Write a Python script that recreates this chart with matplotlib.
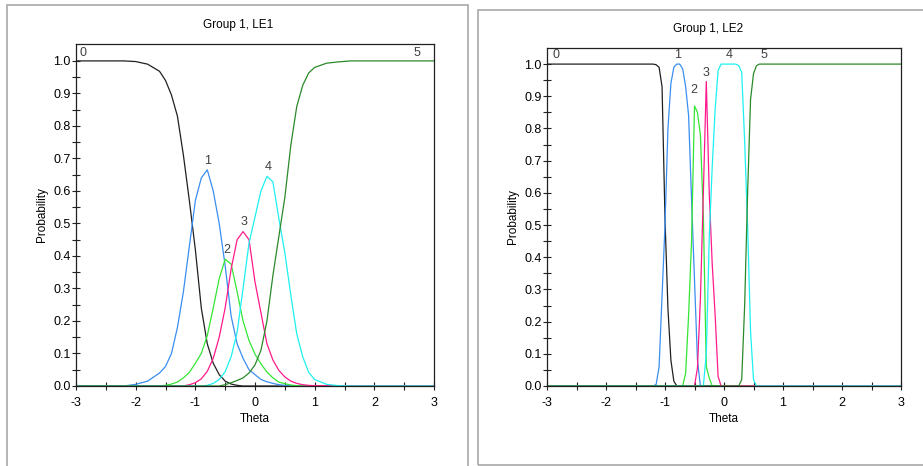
import matplotlib
matplotlib.use('Agg')
import matplotlib.pyplot as plt
from matplotlib.patches import Rectangle

plt.rcParams['font.family'] = ['Liberation Sans', 'DejaVu Sans']
plt.rcParams['axes.unicode_minus'] = False

# ---- LE1: category response curves ----
le1_theta = [-3, -2.5, -2.2, -2.0, -1.8, -1.6, -1.5, -1.4, -1.3, -1.2, -1.1, -1.0,
             -0.9, -0.8, -0.7, -0.6, -0.5, -0.4, -0.3, -0.2, -0.1, 0.0, 0.1, 0.2,
             0.3, 0.4, 0.5, 0.6, 0.7, 0.8, 0.9, 1.0, 1.2, 1.4, 1.6, 2.0, 3.0]
le1_p0 = [1.0, 1.0, 1.0, 0.998, 0.99, 0.968, 0.94, 0.895, 0.83, 0.71, 0.57, 0.42,
          0.24, 0.13, 0.07, 0.035, 0.015, 0.006, 0.002, 0, 0, 0, 0, 0,
          0, 0, 0, 0, 0, 0, 0, 0, 0, 0, 0, 0, 0]
le1_p1 = [0, 0, 0, 0.005, 0.015, 0.04, 0.06, 0.10, 0.18, 0.29, 0.43, 0.57,
          0.64, 0.665, 0.60, 0.50, 0.37, 0.215, 0.13, 0.085, 0.05, 0.035, 0.02, 0.013,
          0.008, 0.004, 0.002, 0, 0, 0, 0, 0, 0, 0, 0, 0, 0]
le1_p2 = [0, 0, 0, 0, 0, 0, 0.002, 0.006, 0.012, 0.025, 0.042, 0.07,
          0.10, 0.155, 0.24, 0.33, 0.39, 0.375, 0.29, 0.20, 0.14, 0.098, 0.068, 0.043,
          0.025, 0.012, 0.007, 0.003, 0.001, 0, 0, 0, 0, 0, 0, 0, 0]
le1_p3 = [0, 0, 0, 0, 0, 0, 0, 0, 0, 0, 0.004, 0.01,
          0.022, 0.045, 0.085, 0.15, 0.24, 0.36, 0.45, 0.475, 0.45, 0.32, 0.225, 0.13,
          0.08, 0.048, 0.028, 0.015, 0.008, 0.004, 0.002, 0.001, 0.001, 0, 0, 0, 0]
le1_p4 = [0, 0, 0, 0, 0, 0, 0, 0, 0, 0, 0, 0,
          0, 0.002, 0.008, 0.02, 0.044, 0.09, 0.165, 0.30, 0.44, 0.52, 0.60, 0.645,
          0.628, 0.515, 0.41, 0.28, 0.16, 0.09, 0.042, 0.02, 0.005, 0.001, 0, 0, 0]
le1_p5 = [0, 0, 0, 0, 0, 0, 0, 0, 0, 0, 0, 0,
          0, 0, 0, 0, 0.004, 0.01, 0.017, 0.025, 0.04, 0.065, 0.11, 0.20,
          0.34, 0.46, 0.58, 0.74, 0.86, 0.925, 0.963, 0.98, 0.993, 0.997, 1.0, 1.0, 1.0]

# ---- LE2 ----
le2_theta = [-3, -1.25, -1.2, -1.15, -1.1, -1.05, -1.0, -0.95, -0.9, -0.85, -0.8,
             -0.75, -0.7, -0.65, -0.6, -0.55, -0.5, -0.45, -0.4, -0.35, -0.3, -0.25,
             -0.2, -0.15, -0.1, -0.05, 0.0, 0.05, 0.1, 0.15, 0.2, 0.25, 0.3, 0.35,
             0.4, 0.45, 0.5, 0.55, 0.6, 3.0]
le2_p0 = [1, 1, 1.0, 0.998, 0.99, 0.93, 0.52, 0.24, 0.08, 0.015, 0,
          0, 0, 0, 0, 0, 0, 0, 0, 0, 0, 0,
          0, 0, 0, 0, 0, 0, 0, 0, 0, 0, 0, 0,
          0, 0, 0, 0, 0, 0]
le2_p1 = [0, 0, 0, 0.005, 0.06, 0.28, 0.50, 0.80, 0.94, 0.99, 1.0,
          1.0, 0.985, 0.93, 0.84, 0.58, 0.33, 0.08, 0, 0, 0, 0,
          0, 0, 0, 0, 0, 0, 0, 0, 0, 0, 0, 0,
          0, 0, 0, 0, 0, 0]
le2_p2 = [0, 0, 0, 0, 0, 0, 0, 0, 0, 0, 0,
          0, 0, 0.04, 0.22, 0.45, 0.87, 0.85, 0.78, 0.53, 0.06, 0.025,
          0, 0, 0, 0, 0, 0, 0, 0, 0, 0, 0, 0,
          0, 0, 0, 0, 0, 0]
le2_p3 = [0, 0, 0, 0, 0, 0, 0, 0, 0, 0, 0,
          0, 0, 0, 0, 0, 0, 0.056, 0.27, 0.60, 0.946, 0.60,
          0.38, 0.22, 0.03, 0, 0, 0, 0, 0, 0, 0, 0, 0,
          0, 0, 0, 0, 0, 0]
le2_p4 = [0, 0, 0, 0, 0, 0, 0, 0, 0, 0, 0,
          0, 0, 0, 0, 0, 0, 0, 0, 0, 0.10, 0.46,
          0.68, 0.86, 0.98, 1.0, 1.0, 1.0, 1.0, 1.0, 1.0, 0.995, 0.975, 0.76,
          0.50, 0.17, 0.02, 0, 0, 0]
le2_p5 = [0, 0, 0, 0, 0, 0, 0, 0, 0, 0, 0,
          0, 0, 0, 0, 0, 0, 0, 0, 0, 0, 0,
          0, 0, 0, 0, 0, 0, 0, 0, 0, 0, 0.02, 0.25,
          0.60, 0.89, 0.97, 0.995, 1.0, 1.0]

cat_colors = ['#202020', '#3a8ef0', '#33e633', '#ff1a8c', '#1ef0f0', '#2a8a2a']

le1_labels = [('0', -2.88, 1.005), ('1', -0.8, 0.675), ('2', -0.48, 0.40),
              ('3', -0.18, 0.485), ('4', 0.22, 0.655), ('5', 2.72, 1.005)]
le2_labels = [('0', -2.85, 1.01), ('1', -0.78, 1.01), ('2', -0.52, 0.90),
              ('3', -0.30, 0.955), ('4', 0.08, 1.01), ('5', 0.68, 1.01)]

W, H = 923, 466
fig = plt.figure(figsize=(W / 100, H / 100), dpi=100)
fig.patch.set_facecolor('white')

# panel frames (pixel -> figure fraction)
def frame(x0, y0, x1, y1):
    r = Rectangle((x0 / W, 1 - y1 / H), (x1 - x0) / W, (y1 - y0) / H,
                  transform=fig.transFigure, fill=False, ec='#a8a8a8', lw=1.2)
    fig.patches.append(r)

frame(7, 5, 468, 480)
frame(478, 10, 930, 465)


def panel(rect, theta, curves, labels, ytop, title, title_x, title_y):
    ax = fig.add_axes(rect)
    for p, c in zip(curves, cat_colors):
        ax.plot(theta, p, color=c, lw=0.9)
    for txt, x, y in labels:
        ax.text(x, y, txt, color='#404040', fontsize=9, ha='center', va='bottom')
    ax.set_xlim(-3, 3)
    ax.set_ylim(0, ytop)
    ax.set_xticks([-3, -2, -1, 0, 1, 2, 3])
    ax.set_xticks([-2.5, -1.5, -0.5, 0.5, 1.5, 2.5], minor=True)
    ax.set_yticks([i / 10 for i in range(11)])
    ax.set_yticklabels(['%.1f' % (i / 10) for i in range(11)])
    ax.set_yticks([i / 10 + 0.05 for i in range(10)], minor=True)
    ax.tick_params(which='both', direction='inout', length=6, width=0.8,
                   labelsize=9, color='#202020', pad=1)
    ax.tick_params(axis='x', pad=5)
    for s in ax.spines.values():
        s.set_color('#202020')
        s.set_linewidth(0.9)
    ax.set_xlabel('Theta', fontsize=8.5, labelpad=3)
    ax.set_ylabel('Probability', fontsize=8.5, labelpad=4)
    fig.text(title_x / W, 1 - title_y / H, title, ha='center', va='center', fontsize=8.5)
    return ax


panel([76 / W, 80 / H, 358 / W, 342 / H], le1_theta,
      [le1_p0, le1_p1, le1_p2, le1_p3, le1_p4, le1_p5], le1_labels, 1.052,
      'Group 1, LE1', 238, 25)
panel([547 / W, 80 / H, 354 / W, 338 / H], le2_theta,
      [le2_p0, le2_p1, le2_p2, le2_p3, le2_p4, le2_p5], le2_labels, 1.05,
      'Group 1, LE2', 708, 29)

fig.savefig('out.png', dpi=100, facecolor='white')
